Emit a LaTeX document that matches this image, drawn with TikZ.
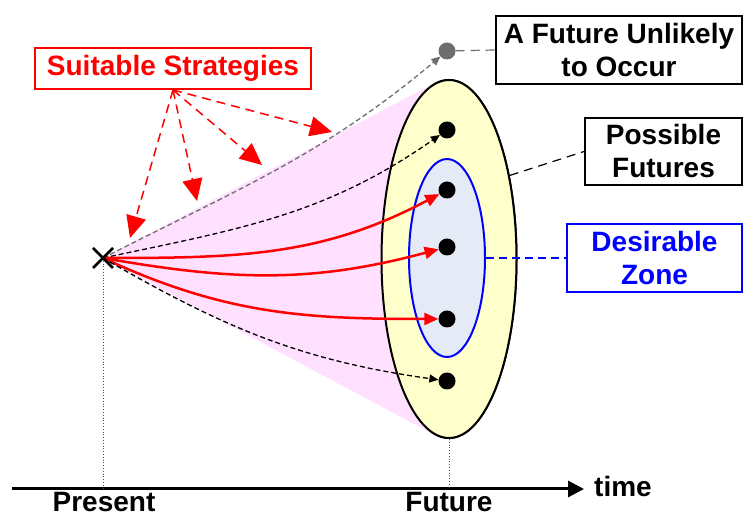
\documentclass[tikz,border=0pt]{standalone}
\usepackage{fontspec}
\setmainfont{Liberation Sans}
\usetikzlibrary{arrows.meta,shapes.geometric}

\definecolor{fanpink}{HTML}{FFE0FF}
\definecolor{possyellow}{HTML}{FFFFCC}
\definecolor{desblue}{HTML}{E4EBF7}
\definecolor{unlikelygray}{HTML}{6E6E6E}

\tikzset{
  lbl/.style={font=\fontsize{28}{33}\selectfont\bfseries, align=center},
  tagbox/.style={lbl, draw, line width=2pt, inner sep=0pt, fill=white},
  fdot/.style={circle, fill=black, minimum size=17pt, inner sep=0pt},
  trail/.style={line width=1.3pt, dash pattern=on 5pt off 3pt, -{Triangle[length=9pt,width=8pt]}},
  strat/.style={red, line width=2.5pt, -{Triangle[length=14pt,width=12pt]}},
  hint/.style={dash pattern=on 9pt off 6pt, line width=1.2pt},
  posszone/.style={ellipse, draw, line width=2pt, fill=possyellow, minimum width=135pt, minimum height=358pt, inner sep=0pt},
}

\begin{document}
\begin{tikzpicture}[x=1pt, y=1pt]
    \useasboundingbox (0,0) rectangle (744,518);

    % where we are now
    \coordinate (present) at (103,260);

    % future cones
    \node[posszone] (outer) at (449,259) {};
    \fill[fanpink] (present) -- (outer.94) -- (outer.266) -- cycle;
    \node[posszone] at (449,259) {};
    \node[ellipse, draw=blue, line width=2pt, fill=desblue, minimum width=76pt, minimum height=198pt, inner sep=0pt] (inner) at (447,260) {};

    % the futures
    \node[fdot] (f1) at (447,388) {};
    \node[fdot] (f2) at (447,328) {};
    \node[fdot] (f3) at (447,271) {};
    \node[fdot] (f4) at (447,199) {};
    \node[fdot] (f5) at (447,137) {};
    \node[fdot, fill=unlikelygray] (gdot) at (447,467) {};

    % time axis
    \coordinate (tstart) at (12,29);
    \coordinate (tend) at (584,29);
    \draw[line width=3pt, -{Triangle[length=16pt,width=16pt]}] (tstart) -- (tend);
    \node[lbl, anchor=base west, inner sep=0pt] (time) at (594,21) {time};
    \node[lbl, anchor=base, inner sep=0pt] (nowlbl) at (104,6) {Present};
    \node[lbl, anchor=base, inner sep=0pt] (laterlbl) at (449,6) {Future};

    % drop lines
    \coordinate (nowtick) at (103,29);
    \coordinate (latertick) at (449,29);
    \draw[dotted, line width=0.8pt, black!70] (present) -- (nowtick);
    \draw[dotted, line width=0.8pt, black!70] (outer.south) -- (latertick);

    % paths into the future
    \draw[trail, unlikelygray] (present) to[out=27, in=220] (gdot);
    \draw[trail] (present) to[out=12, in=215] (f1);
    \draw[strat] (present) to[out=0, in=208] (f2);
    \draw[strat] (present) to[out=-10, in=195] (f3);
    \draw[strat] (present) to[out=-25, in=180] (f4);
    \draw[trail] (present) to[out=-30, in=172] (f5);

    % the cross
    \draw[line width=2.5pt] (93,250) -- (113,270);
    \draw[line width=2.5pt] (93,270) -- (113,250);

    % labels
    \node[tagbox, draw=red, text=red, minimum width=276pt, minimum height=41pt] (stratbox) at (173,449.5) {Suitable Strategies};
    \node[tagbox, minimum width=246pt, minimum height=68pt] (unlikelybox) at (619,468) {A Future Unlikely\\to Occur};
    \node[tagbox, minimum width=157pt, minimum height=67pt] (possbox) at (663.5,366.5) {Possible\\Futures};
    \node[tagbox, draw=blue, text=blue, minimum width=175pt, minimum height=68pt] (deszone) at (654.5,260) {Desirable\\Zone};

    % label leaders
    \draw[hint, unlikelygray] (gdot) -- (unlikelybox.west);
    \draw[hint] (outer.54) -- (possbox.west);
    \draw[hint, blue, dash pattern=on 8pt off 5pt] (inner.east) -- (deszone.west);

    % strategy arrows
    \coordinate (s1) at (130,280);
    \coordinate (s2) at (197,317);
    \coordinate (s3) at (262,353);
    \coordinate (s4) at (332,386);
    \foreach \s in {s1,s2,s3,s4} {
        \draw[red, line width=1.5pt, dash pattern=on 9pt off 6pt, -{Triangle[length=22pt,width=20pt]}] (stratbox.south) -- (\s);
    }
\end{tikzpicture}
\end{document}
